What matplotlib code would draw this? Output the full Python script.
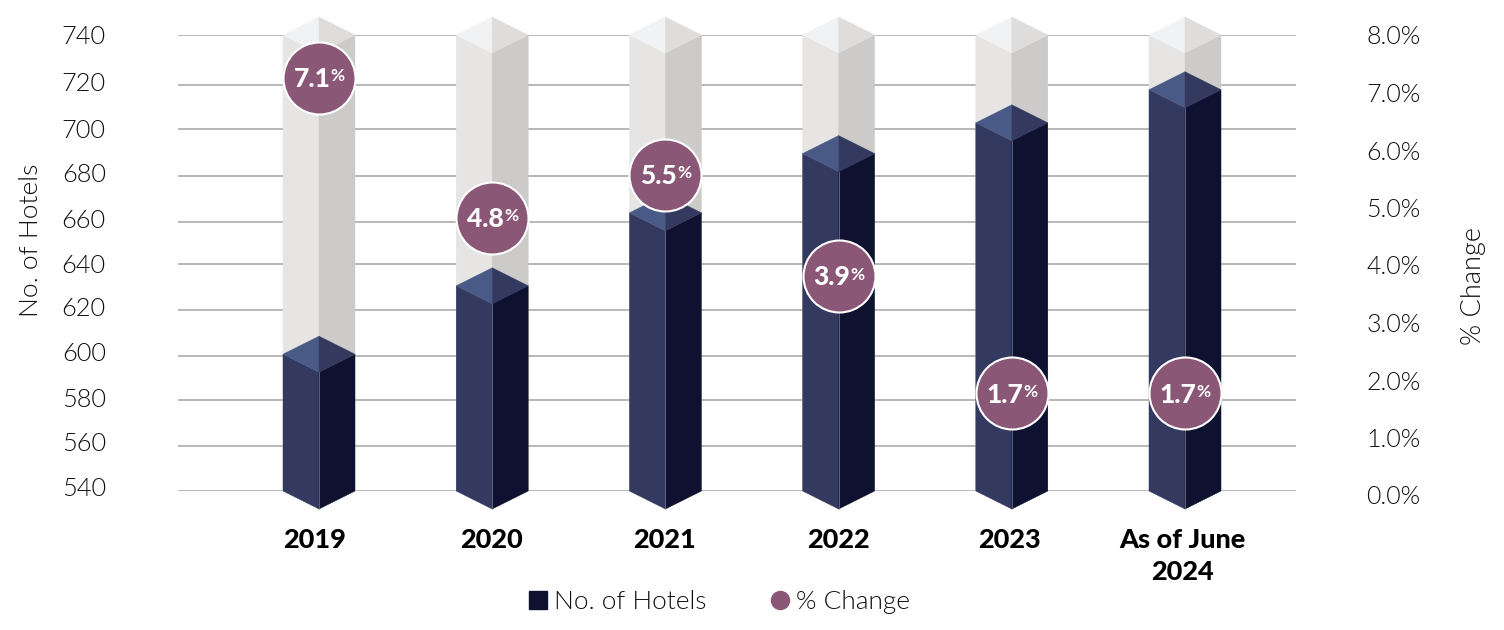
import matplotlib
matplotlib.use("Agg")
import matplotlib.pyplot as plt
from matplotlib.patches import Polygon
from matplotlib.lines import Line2D

categories = ["2019", "2020", "2021", "2022", "2023", "As of June\n2024"]
hotels = [600, 630, 662, 688, 701.5, 716]
pct_position = [7.26, 4.82, 5.57, 3.81, 1.77, 1.77]
pct_labels = ["7.1", "4.8", "5.5", "3.9", "1.7", "1.7"]
left_tick_labels = ["540", "560", "580", "600", "620", "640", "660", "680", "700", "720", "740"]
left_tick_pos = [541.8, 561.5, 581.2, 601, 621.1, 639.6, 659.7, 679.9, 699.2, 719.4, 740]
grid_levels = [540, 559.7, 579.9, 599.2, 619.4, 639.6, 658, 678.2, 698.8, 718.1, 740]
right_ticks = [0, 1, 2, 3, 4, 5, 6, 7, 8]

W, H = 1504, 630
L, R, T, B = 178, 1296, 35, 491
B2 = 495
PITCH = 173.2
HALF = 36 / PITCH
CHEV = 18 * 200 / (B - T)
label_shift = [-4 / PITCH, -1 / PITCH, -1 / PITCH, 0, -2 / PITCH, -3 / PITCH]

LIGHT = {"l": "#E6E5E3", "r": "#CCCBC9", "tl": "#F1F2F3", "tr": "#DEDDDB"}
DARK = {"l": "#33395F", "r": "#0E1230", "tl": "#4A5A86", "tr": "#33395F"}
PLUM = "#8A5777"
LIGHTF = "Lato"
THIN = 300

fig = plt.figure(figsize=(W / 100, H / 100), dpi=100)
ax = fig.add_axes([L / W, 1 - B / H, (R - L) / W, (B - T) / H])
ax.set_xlim((L - 319) / PITCH, (R - 319) / PITCH)
ax.set_ylim(540, 740)
for s in ax.spines.values():
    s.set_visible(False)
ax.hlines(grid_levels, *ax.get_xlim(), color="#ABABAB", lw=1.2, zorder=1)


def prism(x, top, c, z):
    ax.add_patch(Polygon([(x - HALF, 540), (x, 540 - CHEV), (x, top - CHEV), (x - HALF, top)], fc=c["l"], ec=c["l"], lw=0.3, zorder=z, clip_on=False))
    ax.add_patch(Polygon([(x + HALF, 540), (x, 540 - CHEV), (x, top - CHEV), (x + HALF, top)], fc=c["r"], ec=c["r"], lw=0.3, zorder=z, clip_on=False))
    ax.add_patch(Polygon([(x - HALF, top), (x, top - CHEV), (x, top + CHEV)], fc=c["tl"], ec=c["tl"], lw=0.3, zorder=z, clip_on=False))
    ax.add_patch(Polygon([(x + HALF, top), (x, top - CHEV), (x, top + CHEV)], fc=c["tr"], ec=c["tr"], lw=0.3, zorder=z, clip_on=False))


for i, h in enumerate(hotels):
    prism(i, 740, LIGHT, 2)
    prism(i, h, DARK, 3)
    ax.plot([i, i], [540 - CHEV, h - CHEV], color="#7C809A", lw=0.5, zorder=4, clip_on=False)

ax.set_yticks(left_tick_pos)
ax.set_yticklabels(left_tick_labels, fontfamily=LIGHTF, fontweight=THIN, fontsize=18.3, color="#111111")
ax.tick_params(axis="y", length=0, pad=52)
ax.set_xticks([i + s for i, s in enumerate(label_shift)])
ax.set_xticklabels(categories, fontfamily=LIGHTF, fontweight="black", fontsize=19.5, color="#000000", linespacing=1.36)
ax.tick_params(axis="x", length=0, pad=27)

ax2 = fig.add_axes([L / W, 1 - B2 / H, (R - L) / W, (B2 - T) / H])
ax2.patch.set_visible(False)
ax2.set_xlim(ax.get_xlim())
ax2.set_xticks([])
for s in ax2.spines.values():
    s.set_visible(False)
ax2.yaxis.tick_right()
ax2.set_yticks(right_ticks)
ax2.set_yticklabels([f"{v:.1f}%" for v in right_ticks], fontfamily=LIGHTF, fontweight=THIN, fontsize=18, color="#111111")
ax2.set_ylim(0, 8)
ax2.tick_params(axis="y", length=0, pad=50.5)
ax2.scatter(range(len(pct_position)), pct_position, s=2687, c=PLUM, edgecolors="white", linewidths=1.5, zorder=5, clip_on=False)
for i, (p, t) in enumerate(zip(pct_position, pct_labels)):
    ax2.annotate(t, (i, p), xytext=(8.5, -1), textcoords="offset points", ha="right", va="center",
                 fontfamily=LIGHTF, fontweight="black", fontsize=19, color="white", zorder=6)
    ax2.annotate("%", (i, p), xytext=(8.5, 1), textcoords="offset points", ha="left", va="center",
                 fontfamily=LIGHTF, fontweight="bold", fontsize=12.5, color="white", zorder=6)

fig.text(31 / W, 1 - 240 / H, "No. of Hotels", rotation=90, ha="center", va="center", fontfamily=LIGHTF, fontweight=THIN, fontsize=19, color="#111111")
fig.text(1474 / W, 1 - 286 / H, "% Change", rotation=90, ha="center", va="center", fontfamily=LIGHTF, fontweight=THIN, fontsize=19.5, color="#111111")

handles = [Line2D([], [], marker="s", ls="", ms=13, mfc=DARK["r"], mec=DARK["r"]),
           Line2D([], [], marker="o", ls="", ms=13, mfc=PLUM, mec=PLUM)]
fig.legend(handles, ["No. of Hotels", "% Change"], ncols=2, frameon=False, loc="center", bbox_to_anchor=(716 / W, 1 - 602 / H),
           prop={"family": LIGHTF, "weight": THIN, "size": 18.9}, labelcolor="#111111", columnspacing=2.2, handletextpad=0.0, handlelength=1.2)

fig.savefig("out.png", dpi=100)
